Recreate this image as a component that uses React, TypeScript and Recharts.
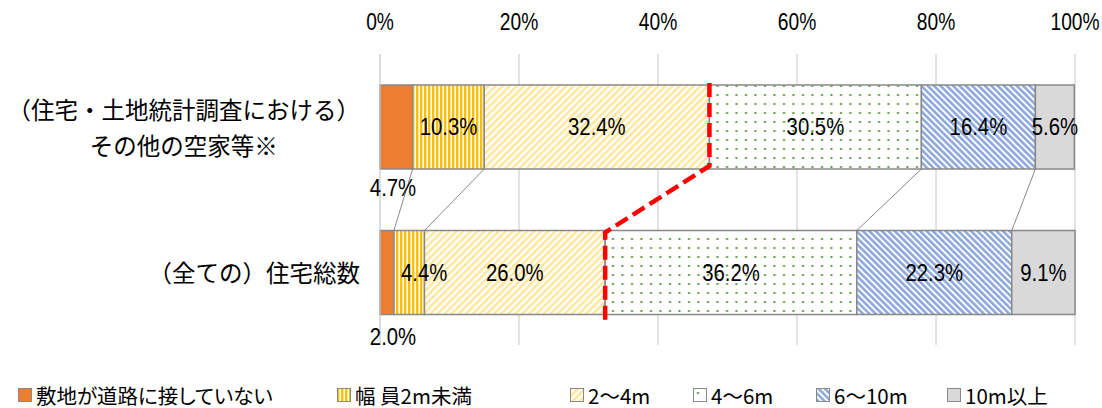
import React from "react";
import { BarChart, Bar, XAxis, YAxis, CartesianGrid, Legend, LabelList } from "recharts";

// 道路幅員別の構成比（%）
const categories = ["（住宅・土地統計調査における）\nその他の空家等※", "（全ての）住宅総数"];
const seriesNames = ["敷地が道路に接していない", "幅 員2m未満", "2～4m", "4～6m", "6～10m", "10m以上"];
const noRoadAccess = [4.7, 2.0];
const under2m = [10.3, 4.4];
const from2to4m = [32.4, 26.0];
const from4to6m = [30.5, 36.2];
const from6to10m = [16.4, 22.3];
const over10m = [5.6, 9.1];
const xTicks = [0, 20, 40, 60, 80, 100];

const seriesValues = [noRoadAccess, under2m, from2to4m, from4to6m, from6to10m, over10m];
const keys = ["s0", "s1", "s2", "s3", "s4", "s5"];
const fills = ["#ED7D31", "url(#pVert)", "url(#pDiagUp)", "url(#pDots)", "url(#pDiagDown)", "#D9D9D9"];

const rows = categories.map((category, i) => {
  const row: Record<string, string | number> = { category };
  keys.forEach((k, s) => (row[k] = seriesValues[s][i]));
  return row;
});

const NUM_FONT = "'Liberation Sans', Arial, sans-serif";
const JP_FONT = "'Noto Sans CJK JP', 'Liberation Sans', sans-serif";
const BORDER = "#898989";

// narrow, tall numerals (horizontally squeezed sans)
const NarrowText = ({ x, y, size, squeeze, children }: any) => (
  <text
    transform={`translate(${x},${y}) scale(${squeeze},1)`}
    x={0}
    y={0}
    textAnchor="middle"
    dominantBaseline="central"
    fontFamily={NUM_FONT}
    fontSize={size}
    fill="#000"
  >
    {children}
  </text>
);

// upper bar geometry per series, used to draw the series lines down to the lower bar
const upper: Record<number, { x: number; y: number; w: number; h: number }> = {};

const makeShape = (s: number) => (props: any) => {
  const { x, y, width, height, index } = props;
  const rect = (
    <rect x={x} y={y} width={width} height={height} fill={fills[s]} stroke={BORDER} strokeWidth={1.5} />
  );
  if (index === 0) {
    upper[s] = { x, y, w: width, h: height };
    return rect;
  }
  const u = upper[s];
  if (!u || s === 0) return rect;
  if (s === 3) {
    // red dashed guide along the 2～4m / 4～6m boundary
    const d = `M${u.x},${u.y - 2} L${u.x},${u.y + u.h - 3} L${x},${y + 2} L${x},${y + height + 8}`;
    return (
      <g>
        {rect}
        <path d={d} fill="none" stroke="#FF0000" strokeWidth={4.5} strokeDasharray="14 6" />
      </g>
    );
  }
  return (
    <g>
      {rect}
      <line x1={u.x} y1={u.y + u.h} x2={x} y2={y} stroke={BORDER} strokeWidth={1} />
    </g>
  );
};

const makeLabel = (s: number) => (props: any) => {
  const vb = props.viewBox || props;
  const { x, y, width, height } = vb;
  const { value, index } = props;
  let cx = x + width / 2;
  let cy = y + height / 2;
  if (s === 0) {
    cx = x + 13;
    cy = y + height + (index === 0 ? 19 : 22);
  } else if (s === 1 && index === 1) {
    cx = x + width / 2 + 15;
  }
  return (
    <NarrowText x={cx} y={cy} size={24.5} squeeze={0.83}>
      {`${Number(value).toFixed(1)}%`}
    </NarrowText>
  );
};

const XTick = (props: any) => {
  const { x, y, payload } = props;
  return (
    <NarrowText x={x} y={y - 32} size={24} squeeze={0.8}>
      {`${payload.value}%`}
    </NarrowText>
  );
};

const YTick = (props: any) => {
  const { x, y, payload } = props;
  const lines = String(payload.value).split("\n");
  const fs = 23.5;
  const right = x - 20;
  const longest = Math.max(...lines.map((l) => l.length));
  const cx = right - (longest * fs) / 2;
  const top = y - ((lines.length - 1) * 36) / 2;
  return (
    <g>
      {lines.map((l, i) => (
        <text key={i} x={cx} y={top + i * 36} textAnchor="middle" dominantBaseline="central" fontFamily={JP_FONT} fontSize={fs} fill="#000">
          {l}
        </text>
      ))}
    </g>
  );
};

const legendLefts = [18, 337, 570, 693, 816, 947];

const renderLegend = () => (
  <div style={{ position: "relative", width: 1102, height: 63 }}>
    {seriesNames.map((name, i) => (
      <div
        key={name}
        style={{ position: "absolute", left: legendLefts[i], top: 40, height: 20, display: "flex", alignItems: "center", whiteSpace: "nowrap" }}
      >
        <svg width={14} height={14} style={{ marginRight: 4 }}>
          <rect x={0.5} y={0.5} width={13} height={13} fill={fills[i]} stroke={BORDER} strokeWidth={1} />
        </svg>
        <span
          style={{ fontFamily: JP_FONT, fontSize: 20.5, fontFeatureSettings: '"palt"', color: "#000", lineHeight: "20px" }}
        >
          {name}
        </span>
      </div>
    ))}
  </div>
);

export default function App() {
  return (
    <div style={{ position: "absolute", left: 0, top: 0, background: "#fff" }}>
      <svg width={0} height={0} style={{ position: "absolute" }}>
        <defs>
          <pattern id="pVert" patternUnits="userSpaceOnUse" width={4} height={4}>
            <rect width={4} height={4} fill="#fff" />
            <rect width={2.4} height={4} fill="#FFC000" />
          </pattern>
          <pattern id="pDiagUp" patternUnits="userSpaceOnUse" width={5} height={5} patternTransform="rotate(45)">
            <rect width={5} height={5} fill="#fff" />
            <rect width={2.5} height={5} fill="#FFE699" />
          </pattern>
          <pattern id="pDots" patternUnits="userSpaceOnUse" width={9.5} height={9}>
            <rect width={9.5} height={9} fill="#fff" />
            <rect x={4} y={4} width={2} height={2} fill="#5E9E3C" />
          </pattern>
          <pattern id="pDiagDown" patternUnits="userSpaceOnUse" width={4.5} height={4.5} patternTransform="rotate(-45)">
            <rect width={4.5} height={4.5} fill="#fff" />
            <rect width={2.6} height={4.5} fill="#8EA9DB" />
          </pattern>
        </defs>
      </svg>
      <BarChart
        width={1102}
        height={408}
        data={rows}
        layout="vertical"
        margin={{ top: 0, right: 27, bottom: 0, left: 0 }}
        barSize={84}
      >
        <CartesianGrid horizontal={false} vertical stroke="#c8c8c8" />
        <XAxis
          type="number"
          orientation="top"
          domain={[0, 100]}
          ticks={xTicks}
          height={54}
          axisLine={false}
          tickLine={false}
          tickSize={0}
          tickMargin={0}
          tick={<XTick />}
        />
        <YAxis
          type="category"
          dataKey="category"
          width={380}
          axisLine={{ stroke: "#d9d9d9" }}
          tickLine={false}
          tickSize={0}
          tickMargin={0}
          tick={<YTick />}
        />
        <Legend verticalAlign="bottom" align="left" content={renderLegend} wrapperStyle={{ left: 0, bottom: 0 }} />
        {keys.map((k, s) => (
          <Bar key={k} dataKey={k} name={seriesNames[s]} stackId="a" fill={fills[s]} shape={makeShape(s)} isAnimationActive={false}>
            <LabelList dataKey={k} content={makeLabel(s)} />
          </Bar>
        ))}
      </BarChart>
    </div>
  );
}
